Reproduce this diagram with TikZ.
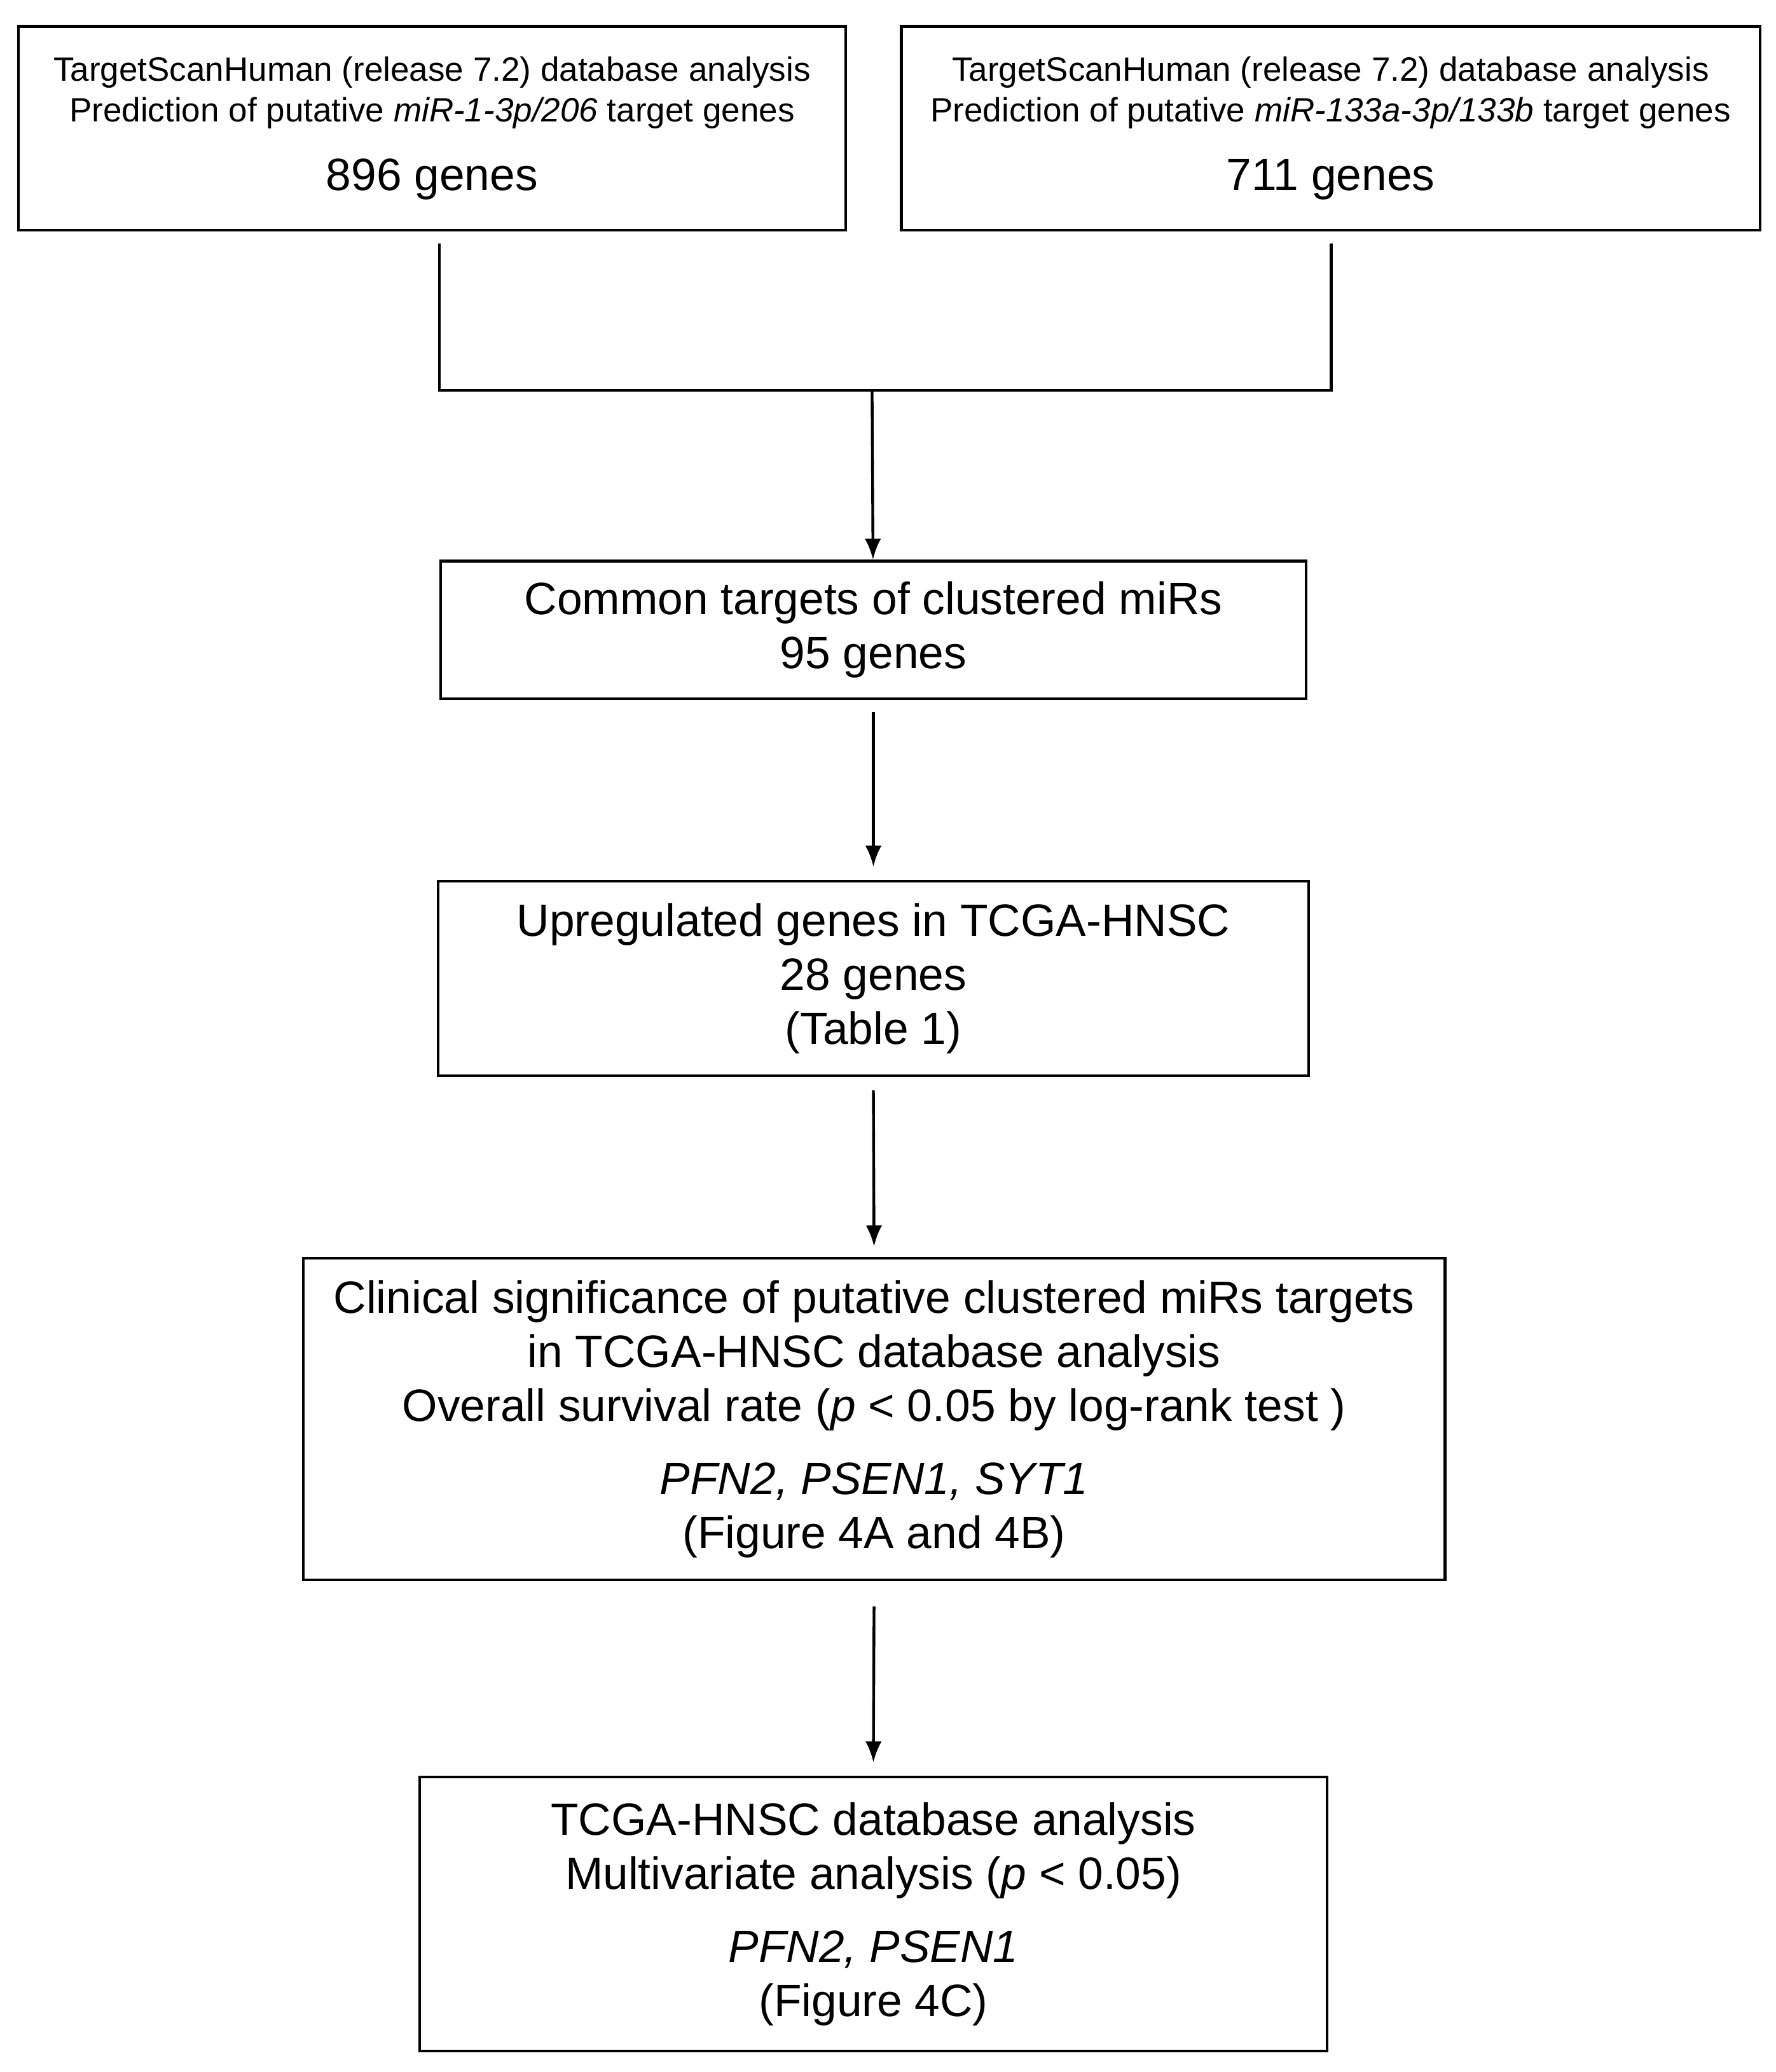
\documentclass[tikz,border=0pt]{standalone}
\usepackage{fontspec}
\setmainfont{Liberation Sans}
\usetikzlibrary{arrows.meta}
\tikzset{
  box/.style={draw, line width=1.2pt, align=center, inner sep=0pt},
  small/.style={font=\fontsize{14.5}{17.6}\selectfont},
  big/.style={font=\fontsize{19.5}{23.3}\selectfont},
  link/.style={line width=1.2pt},
  arr/.style={line width=1.2pt, -{Latex[length=9pt,width=7pt]}}
}
\begin{document}
\begin{tikzpicture}[x=0.02cm,y=-0.02cm]
\useasboundingbox (0,0) rectangle (1342,1566);
% top boxes
\node[box, small, minimum width=12.5cm, minimum height=3.08cm] (scanA) at (326.5,97)
  {TargetScanHuman (release 7.2) database analysis\\Prediction of putative \textit{miR-1-3p/206} target genes\\[12pt]{\fontsize{19.5}{23.3}\selectfont 896 genes}};
\node[box, small, minimum width=12.98cm, minimum height=3.08cm] (scanB) at (1005.5,97)
  {TargetScanHuman (release 7.2) database analysis\\Prediction of putative \textit{miR-133a-3p/133b} target genes\\[12pt]{\fontsize{19.5}{23.3}\selectfont 711 genes}};
% merge
\coordinate (jA) at (332,295);
\coordinate (jB) at (1006,295);
\coordinate (jM) at (659,295);
\draw[link] (332,184) -- (jA) -- (jB) -- (1006,184);
% chain
\node[box, big, minimum width=13.08cm, minimum height=2.08cm] (common) at (660,476)
  {Common targets of clustered miRs\\95 genes};
\node[box, big, minimum width=13.16cm, minimum height=2.94cm] (upreg) at (660,739.5)
  {Upregulated genes in TCGA-HNSC\\28 genes\\(Table 1)};
\node[box, big, minimum width=17.26cm, minimum height=4.86cm] (clinic) at (660.5,1072.5)
  {Clinical significance of putative clustered miRs targets\\in TCGA-HNSC database analysis\\Overall survival rate (\textit{p} < 0.05 by log-rank test )\\[8pt]\textit{PFN2, PSEN1, SYT1}\\(Figure 4A and 4B)};
\node[box, big, minimum width=13.72cm, minimum height=4.14cm] (multi) at (660,1446.5)
  {TCGA-HNSC database analysis\\Multivariate analysis (\textit{p} < 0.05)\\[8pt]\textit{PFN2, PSEN1}\\(Figure 4C)};
\draw[arr] (jM) -- (common);
\draw[arr] ([yshift=-0.18cm]common.south) -- ([yshift=0.2cm]upreg.north);
\draw[arr] ([yshift=-0.2cm]upreg.south) -- ([yshift=0.16cm]clinic.north);
\draw[arr] ([yshift=-0.38cm]clinic.south) -- ([yshift=0.2cm]multi.north);
\end{tikzpicture}
\end{document}
